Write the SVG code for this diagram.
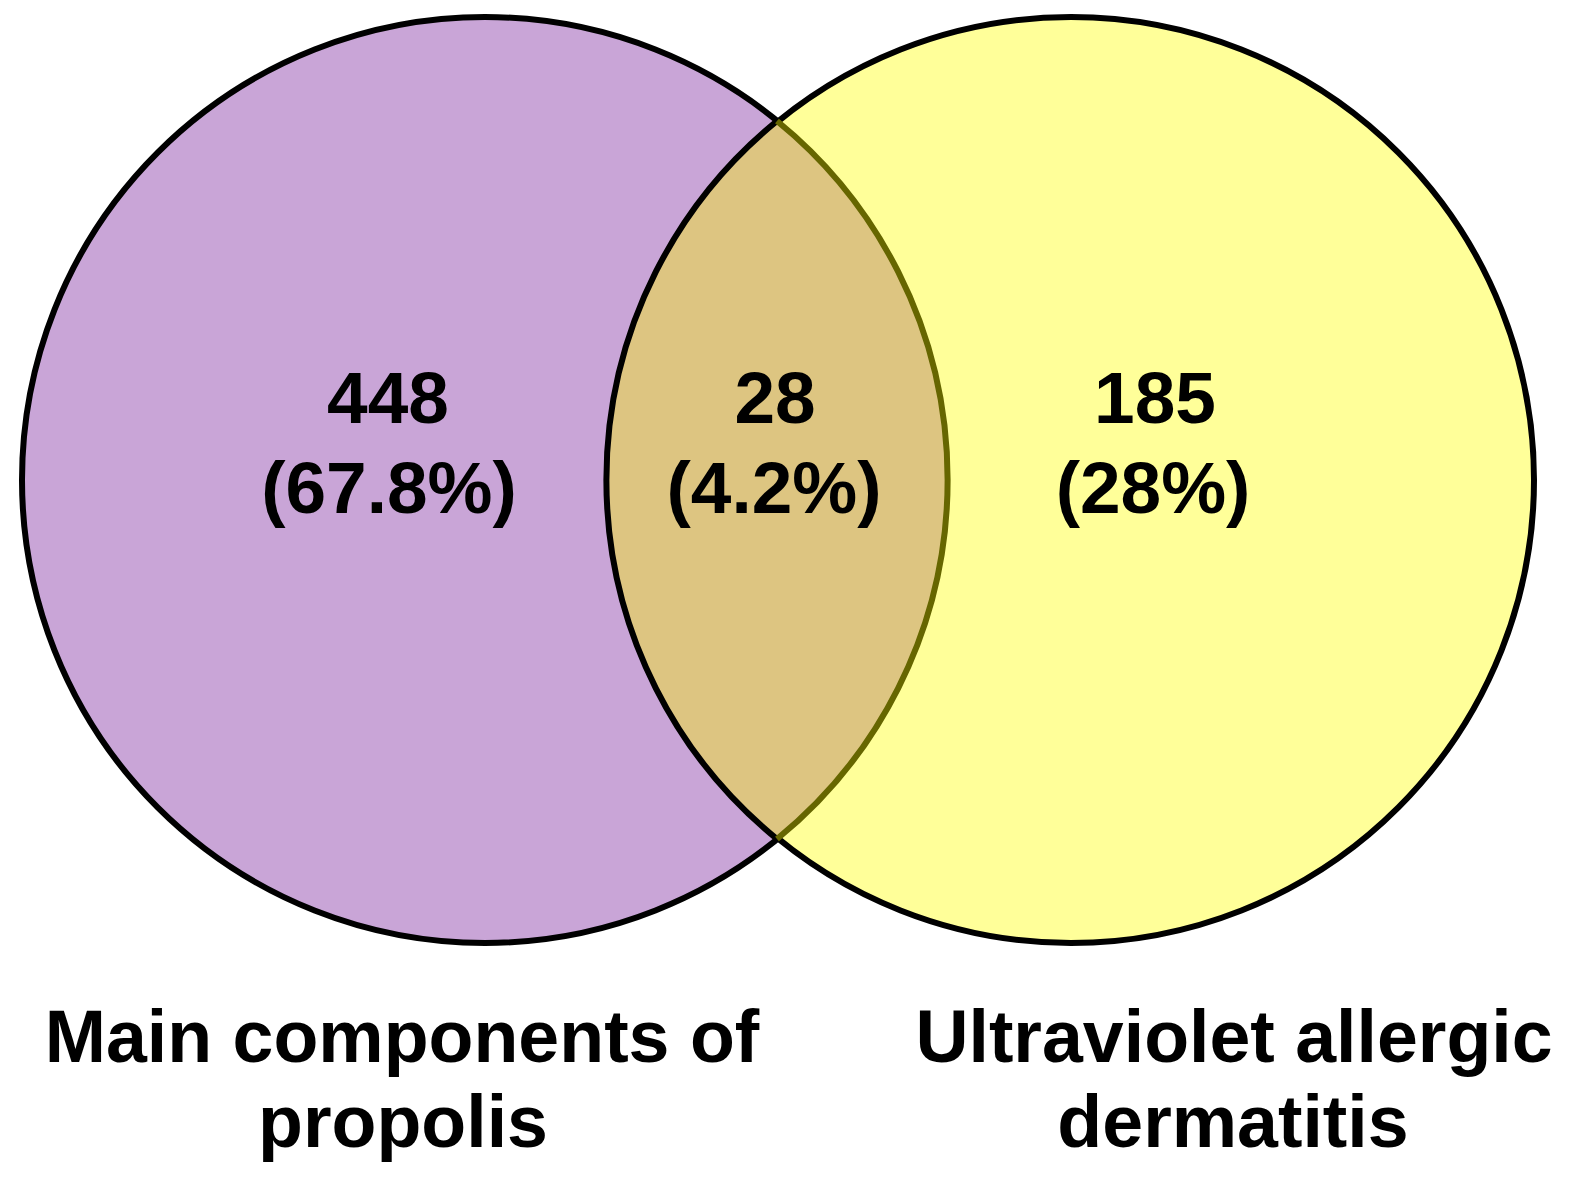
<svg xmlns="http://www.w3.org/2000/svg" width="1572" height="1182" viewBox="0 0 1572 1182">
<style>
.num{font-family:"Liberation Sans",Arial,sans-serif;font-weight:bold;font-size:73px;text-anchor:middle;fill:#000}
.lab{font-family:"Liberation Sans",Arial,sans-serif;font-weight:bold;font-size:73.5px;text-anchor:middle;fill:#000}
</style>
<rect width="1572" height="1182" fill="#fff"/>
<defs>
<clipPath id="clipL"><circle cx="485" cy="480" r="463"/></clipPath>
</defs>
<g id="setA">
<circle cx="485" cy="480" r="463" fill="#C9A5D7" stroke="#000" stroke-width="6"/>
</g>
<g id="setB">
<circle cx="1071" cy="480" r="463" fill="#FFFF99" stroke="#000" stroke-width="6"/>
</g>
<g id="overlap">
<circle cx="1071" cy="480" r="463" fill="#DDC581" clip-path="url(#clipL)"/>
<path d="M777,121 A463,463 0 0 0 777,839" fill="none" stroke="#000" stroke-width="6"/>
<path d="M777,121 A463,463 0 0 1 777,839" fill="none" stroke="#666600" stroke-width="6"/>
</g>
<g id="labels">
<text class="num" x="388" y="423">448</text>
<text class="num" x="389" y="513">(67.8%)</text>
<text class="num" x="775" y="423">28</text>
<text class="num" x="774" y="513">(4.2%)</text>
<text class="num" x="1155" y="423">185</text>
<text class="num" x="1153" y="513">(28%)</text>
<text class="lab" x="402" y="1062">Main components of</text>
<text class="lab" x="403" y="1147">propolis</text>
<text class="lab" x="1234" y="1062">Ultraviolet allergic</text>
<text class="lab" x="1233" y="1147">dermatitis</text>
</g>
</svg>
